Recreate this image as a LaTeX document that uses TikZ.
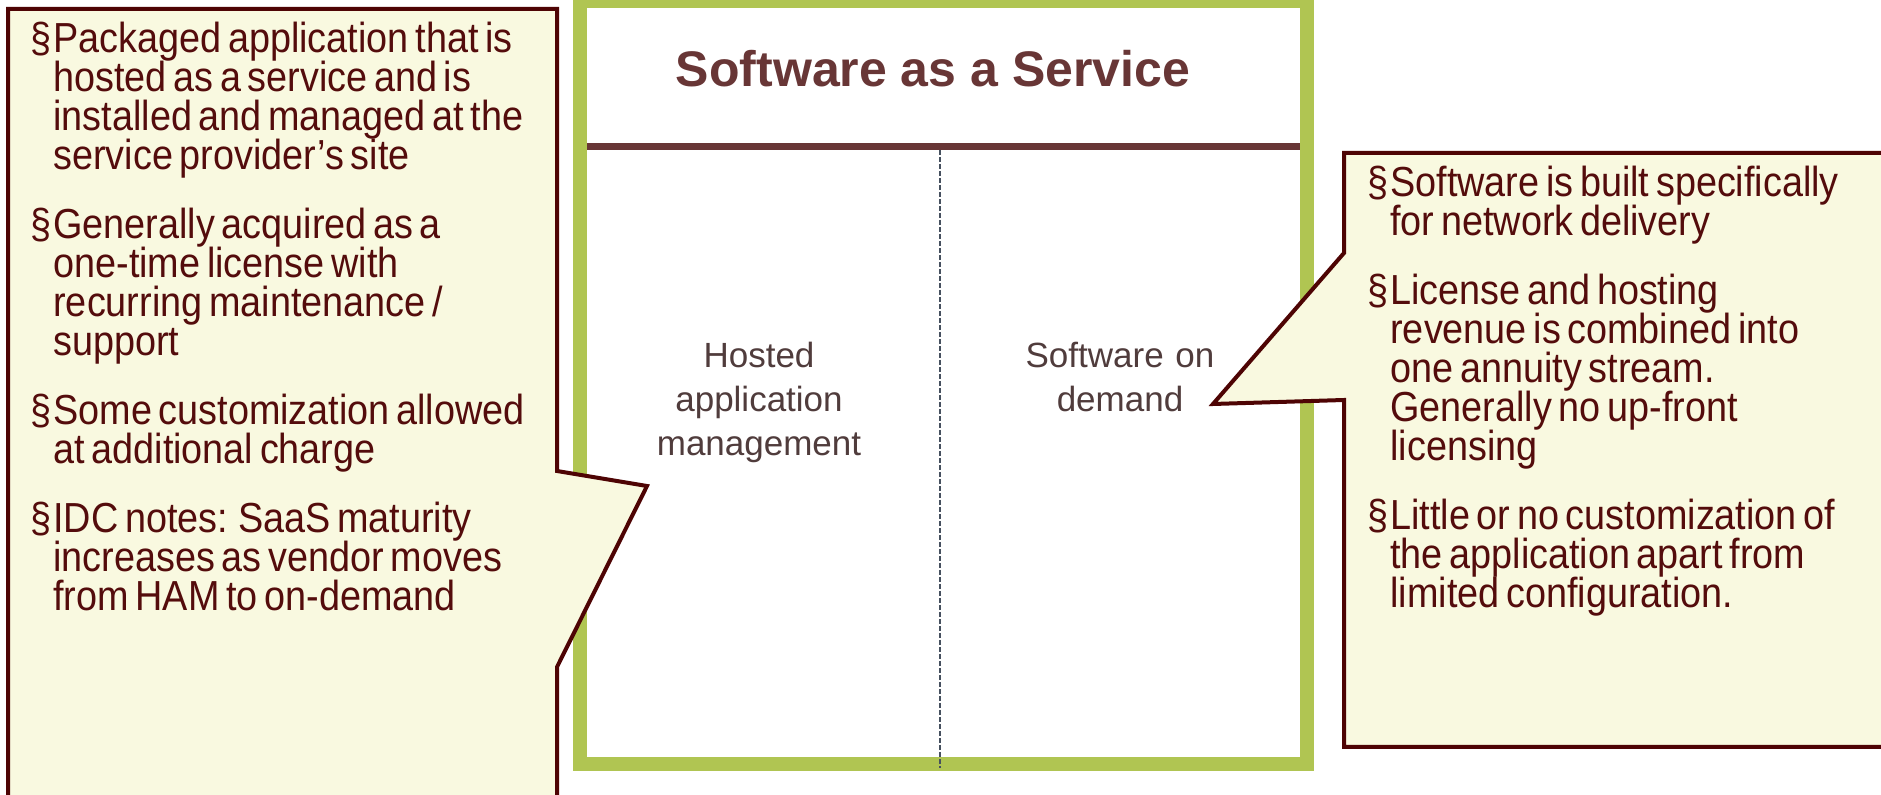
\documentclass[tikz,border=0pt]{standalone}
\usepackage{fontspec}
\setmainfont{Liberation Sans}
\newfontfamily\notefont[FakeStretch=0.9,WordSpace=1.3]{Liberation Sans}
\usepackage{tikz}
\usetikzlibrary{positioning}
\definecolor{saasgreen}{RGB}{176,197,82}
\definecolor{notefill}{RGB}{249,249,224}
\definecolor{noteline}{RGB}{78,4,4}
\definecolor{notetext}{RGB}{84,12,12}
\definecolor{titlebrown}{RGB}{104,54,54}
\definecolor{labelgray}{RGB}{80,60,60}
\definecolor{dashgray}{RGB}{70,80,95}

\newcommand{\bul}[1]{\hangindent=11.5pt\hangafter=1\noindent\makebox[11.5pt][l]{\S}#1\par}
\newcommand{\notesetup}{\notefont\fontsize{21pt}{19.5pt}\selectfont\lineskiplimit=-100pt\lineskip=0pt\parskip=15pt\relax}

\begin{document}
\begin{tikzpicture}[x=0.5pt, y=-0.5pt, line join=miter]
   \useasboundingbox (0,0) rectangle (1881,795);
   % the SaaS box
   \fill[white] (580,1) rectangle (1307,764);
   \draw[saasgreen, line width=7pt] (580,1) rectangle (1307,764);
   \draw[titlebrown, line width=3.5pt] (587,147) -- (1300,147);
   \draw[dashgray, line width=0.7pt, dash pattern=on 2.5pt off 1pt] (940,150) -- (940,768);
   \begin{scope}[every node/.style={inner sep=0pt}]
    \node (ttl) [anchor=base, text=titlebrown, font=\bfseries\fontsize{25pt}{30pt}\selectfont] at (933,87) {Software as a Service};
    \node (ham) [anchor=north, text=labelgray, text width=130pt, align=center, font=\fontsize{17.5pt}{22pt}\selectfont] at (759,342) {Hosted\\application\\management};
    \node (sod) [anchor=north, text=labelgray, text width=130pt, align=center, font=\fontsize{17.5pt}{22pt}\selectfont] at (1120,342) {Software on\\demand};
   \end{scope}
   % callouts
   \begin{scope}[noteline, fill=notefill, line width=2pt]
    \filldraw (8,9) -- (557,9) -- (557,471) -- (647,486) -- (557,667) -- (557,812) -- (8,812) -- cycle;
    \filldraw (1344,153) -- (1900,153) -- (1900,747) -- (1344,747) -- (1344,400) -- (1213,404) -- (1344,253) -- cycle;
   \end{scope}
   \begin{scope}[every node/.style={inner sep=0pt, anchor=north west, text width=280pt, align=left, text=notetext}]
    \node (lnotes) at (30,22) {\notesetup%
      \bul{Packaged application that is\newline hosted as a service and is\newline installed and managed at the\newline service provider’s site}
      \bul{Generally acquired as a\newline one-time license with\newline recurring maintenance /\newline support}
      \bul{Some customization allowed\newline at additional charge}
      \bul{IDC notes: SaaS maturity\newline increases as vendor moves\newline from HAM to on-demand}};
    \node (rnotes) at (1367,166) {\notesetup%
      \bul{Software is built specifically\newline for network delivery}
      \bul{License and hosting\newline revenue is combined into\newline one annuity stream.\newline Generally no up-front\newline licensing}
      \bul{Little or no customization of\newline the application apart from\newline limited configuration.}};
   \end{scope}
\end{tikzpicture}
\end{document}
